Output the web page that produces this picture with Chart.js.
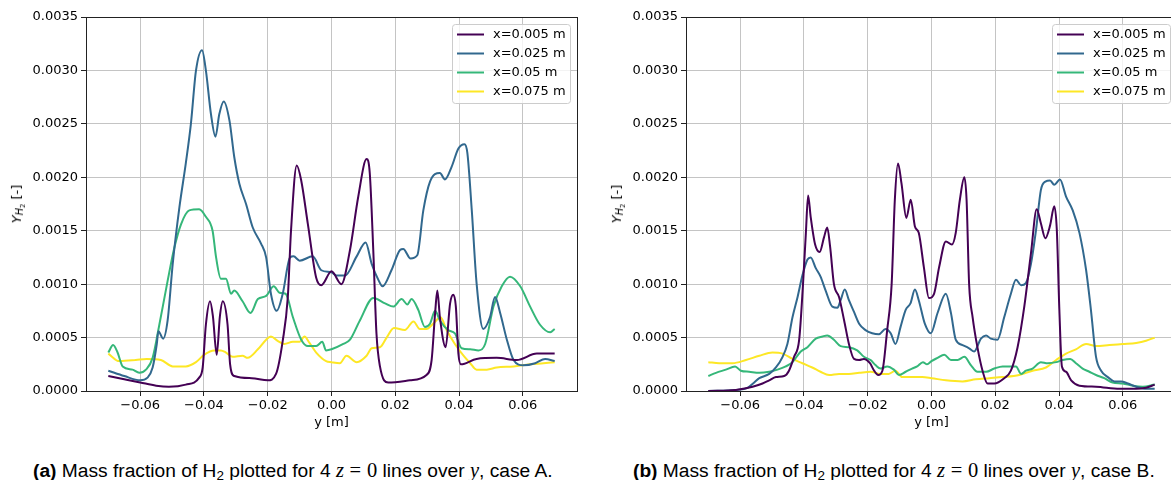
<!DOCTYPE html>
<html>
<head>
<meta charset="utf-8">
<script src="https://cdn.jsdelivr.net/npm/chart.js@4"></script>
<style>
  body { margin: 0; width: 1171px; height: 480px; overflow: hidden; position: relative; background: #fff; }
  .panel { position: absolute; top: 0; }
  .ylab { position: absolute; font: 13px "DejaVu Sans"; white-space: nowrap; transform: translate(-50%, -50%) rotate(-90deg); }
  .ylab sub { font-size: 75%; vertical-align: -0.25em; }
  .ylab sub sub { font-size: 70%; }
  .cap { position: absolute; top: 459px; font: 19.2px "Liberation Sans"; white-space: nowrap; line-height: 22px; }
  .cap sub { font-size: 70%; vertical-align: -0.2em; line-height: 0; }
  .m { font-family: "Liberation Serif"; font-size: 20.5px; }
  .eq { margin: 0 0.28em; }
</style>
</head>
<body>
<div class="panel" style="left:0"><canvas id="chartA" width="585" height="431"></canvas></div>
<div class="panel" style="left:600px"><canvas id="chartB" width="585" height="431"></canvas></div>
<div class="ylab" style="left:18px;top:204px"><i>Y</i><sub><i>H</i><sub>2</sub></sub> [-]</div>
<div class="ylab" style="left:618px;top:204px"><i>Y</i><sub><i>H</i><sub>2</sub></sub> [-]</div>
<div class="cap" style="left:33px"><b>(a)</b> Mass fraction of H<sub>2</sub> plotted for 4 <span class="m"><i>z</i><span class="eq">=</span>0</span> lines over <span class="m"><i>y</i></span>, case A.</div>
<div class="cap" style="left:633px"><b>(b)</b> Mass fraction of H<sub>2</sub> plotted for 4 <span class="m"><i>z</i><span class="eq">=</span>0</span> lines over <span class="m"><i>y</i></span>, case B.</div>
<script>
// ticks
const xTicks = [-0.06, -0.04, -0.02, 0, 0.02, 0.04, 0.06];
const yTicks = [0, 0.0005, 0.001, 0.0015, 0.002, 0.0025, 0.003, 0.0035];
const labels = ["x=0.005 m", "x=0.025 m", "x=0.05 m", "x=0.075 m"];
const colors = ["#440154", "#31688e", "#35b779", "#fde725"];

// case A
const A005pos = [-0.07, -0.065, -0.06, -0.055, -0.051, -0.0457, -0.0415, -0.0404, -0.0394, -0.0381, -0.0372, -0.036, -0.035, -0.0341, -0.0326, -0.0318, -0.0305, -0.025, -0.02, -0.0174, -0.0153, -0.0137, -0.0127, -0.0109, -0.0095, -0.0074, -0.0048, -0.0032, 0, 0.0031, 0.0058, 0.0084, 0.011, 0.012, 0.0131, 0.0141, 0.0152, 0.0178, 0.0246, 0.0298, 0.0314, 0.0325, 0.0332, 0.034, 0.0358, 0.0372, 0.0382, 0.039, 0.0398, 0.0406, 0.0455, 0.0518, 0.0581, 0.0644, 0.07];
const A005val = [0.00014, 0.00011, 0.00008, 0.00005, 0.00004, 0.00006, 0.000125, 0.00022, 0.00062, 0.00084, 0.0007, 0.00034, 0.0007, 0.00084, 0.00062, 0.00025, 0.00014, 0.00012, 0.0001, 0.00016, 0.00047, 0.00088, 0.0015, 0.00211, 0.00197, 0.00156, 0.00106, 0.00099, 0.00112, 0.001, 0.00132, 0.00182, 0.00217, 0.00204, 0.00132, 0.00054, 0.00023, 0.00008, 0.0001, 0.00015, 0.00029, 0.00073, 0.00094, 0.00069, 0.00041, 0.00082, 0.0009, 0.00079, 0.00035, 0.00025, 0.0003, 0.00031, 0.00029, 0.00035, 0.00035];

const A025pos = [-0.07, -0.065, -0.06, -0.0577, -0.0561, -0.0548, -0.0543, -0.0528, -0.0514, -0.0498, -0.0477, -0.0457, -0.0441, -0.0425, -0.0406, -0.0394, -0.0378, -0.0364, -0.0352, -0.0338, -0.032, -0.0305, -0.0289, -0.0268, -0.0247, -0.0221, -0.0205, -0.019, -0.0172, -0.0153, -0.013, -0.0119, -0.01, -0.0059, -0.0032, 0, 0.0016, 0.0042, 0.0079, 0.0107, 0.0126, 0.0147, 0.016, 0.0188, 0.0215, 0.0225, 0.0248, 0.0269, 0.0288, 0.0309, 0.034, 0.0356, 0.0377, 0.0398, 0.0417, 0.0426, 0.044, 0.0455, 0.0476, 0.0497, 0.0513, 0.0529, 0.055, 0.0571, 0.0602, 0.0639, 0.067, 0.07];
const A025val = [0.00019, 0.00014, 0.0001, 0.000125, 0.00022, 0.00044, 0.00056, 0.00049, 0.00066, 0.00119, 0.00172, 0.00213, 0.0025, 0.003, 0.00319, 0.003, 0.00259, 0.00238, 0.00259, 0.00271, 0.00253, 0.00219, 0.00194, 0.00175, 0.00153, 0.00138, 0.00125, 0.00091, 0.00075, 0.00091, 0.00125, 0.00126, 0.00122, 0.00126, 0.00113, 0.00111, 0.00108, 0.00108, 0.00126, 0.00139, 0.00119, 0.00104, 0.00098, 0.00113, 0.00132, 0.00133, 0.00124, 0.00127, 0.00169, 0.00196, 0.00204, 0.00198, 0.0021, 0.00227, 0.00231, 0.00223, 0.00169, 0.00101, 0.00058, 0.00069, 0.00088, 0.00073, 0.00048, 0.00029, 0.00024, 0.00026, 0.0003, 0.00028];

const A050pos = [-0.07, -0.0685, -0.0671, -0.0655, -0.0624, -0.0603, -0.0582, -0.0561, -0.054, -0.0514, -0.0493, -0.0472, -0.0446, -0.0415, -0.0394, -0.0373, -0.0362, -0.0347, -0.0331, -0.0315, -0.0305, -0.0279, -0.0254, -0.0231, -0.0205, -0.0181, -0.0163, -0.0144, -0.0121, -0.0095, -0.0074, -0.0048, -0.0029, -0.0017, 0, 0.0037, 0.0058, 0.0089, 0.0131, 0.0168, 0.0194, 0.022, 0.0238, 0.0251, 0.0272, 0.0293, 0.0309, 0.0325, 0.034, 0.0366, 0.0387, 0.0408, 0.0435, 0.0461, 0.0482, 0.0508, 0.0534, 0.056, 0.0592, 0.0623, 0.0654, 0.0686, 0.07];
const A050val = [0.00036, 0.00043, 0.00036, 0.00023, 0.0002, 0.00017, 0.0002, 0.00031, 0.00062, 0.00103, 0.00134, 0.00156, 0.00169, 0.0017, 0.00163, 0.0015, 0.00125, 0.00105, 0.00105, 0.00091, 0.00094, 0.00084, 0.00073, 0.00086, 0.00089, 0.00098, 0.00092, 0.00091, 0.00069, 0.00048, 0.00042, 0.00042, 0.00046, 0.00038, 0.00039, 0.00044, 0.00048, 0.00066, 0.00087, 0.00082, 0.00079, 0.00086, 0.00081, 0.00086, 0.00076, 0.0006, 0.00063, 0.00075, 0.00066, 0.00057, 0.00054, 0.0004, 0.00039, 0.00038, 0.00044, 0.00079, 0.00098, 0.00107, 0.00098, 0.00079, 0.00062, 0.00055, 0.00058];

const A075pos = [-0.07, -0.0666, -0.0614, -0.058, -0.0535, -0.0498, -0.0457, -0.0425, -0.0399, -0.0368, -0.0347, -0.0331, -0.031, -0.0279, -0.0263, -0.0231, -0.0205, -0.019, -0.0169, -0.0148, -0.0121, -0.01, -0.0085, -0.0069, -0.0048, -0.0017, 0, 0.0026, 0.0047, 0.0079, 0.011, 0.0126, 0.0152, 0.0173, 0.0196, 0.023, 0.0257, 0.0277, 0.0298, 0.0319, 0.0342, 0.0361, 0.0387, 0.0414, 0.0435, 0.0455, 0.0487, 0.0518, 0.0571, 0.0623, 0.0665, 0.07];
const A075val = [0.00035, 0.00028, 0.00029, 0.0003, 0.00029, 0.00023, 0.00023, 0.00027, 0.00034, 0.00038, 0.00038, 0.00036, 0.00032, 0.00033, 0.00031, 0.00039, 0.00048, 0.00051, 0.00047, 0.00044, 0.00046, 0.00046, 0.00051, 0.00045, 0.00036, 0.00028, 0.00027, 0.00026, 0.00033, 0.00027, 0.00033, 0.0004, 0.00041, 0.0005, 0.00059, 0.00057, 0.00065, 0.00058, 0.00058, 0.00063, 0.00069, 0.00057, 0.00044, 0.00033, 0.00026, 0.0002, 0.0002, 0.00022, 0.00023, 0.00025, 0.00026, 0.00027];

// case B
const B005pos = [-0.07, -0.0614, -0.0582, -0.0561, -0.053, -0.0509, -0.0488, -0.0462, -0.0447, -0.0431, -0.0415, -0.0403, -0.0394, -0.0387, -0.0379, -0.0365, -0.0351, -0.0337, -0.0327, -0.0318, -0.0306, -0.029, -0.0274, -0.0259, -0.0243, -0.0227, -0.0212, -0.0193, -0.018, -0.0167, -0.0154, -0.0139, -0.0125, -0.0115, -0.0105, -0.0094, -0.0079, -0.0065, -0.0052, -0.004, -0.0024, -0.0008, 0.0008, 0.0024, 0.0045, 0.0064, 0.0076, 0.0089, 0.0103, 0.011, 0.0118, 0.0129, 0.0144, 0.016, 0.0176, 0.0197, 0.0228, 0.0249, 0.027, 0.0291, 0.0312, 0.033, 0.0343, 0.0357, 0.0372, 0.0385, 0.0393, 0.0401, 0.0409, 0.0422, 0.0438, 0.0464, 0.0516, 0.059, 0.0642, 0.0673, 0.07];
const B005val = [0, 0.00001, 0.000025, 0.00004, 0.00007, 0.0001, 0.00013, 0.00014, 0.00019, 0.00032, 0.00048, 0.001, 0.00148, 0.00183, 0.00163, 0.00137, 0.0013, 0.00144, 0.00153, 0.00135, 0.001, 0.00088, 0.00066, 0.00044, 0.0003, 0.00029, 0.0003, 0.00026, 0.00019, 0.00015, 0.00019, 0.00057, 0.001, 0.00179, 0.00213, 0.00194, 0.00162, 0.00179, 0.00154, 0.00148, 0.00116, 0.00087, 0.00091, 0.00116, 0.0014, 0.00137, 0.00148, 0.00179, 0.002, 0.00179, 0.001, 0.00069, 0.00041, 0.00019, 0.00007, 0.00007, 0.00012, 0.00019, 0.00041, 0.00079, 0.00129, 0.0017, 0.00157, 0.00143, 0.00155, 0.00173, 0.00151, 0.00076, 0.00023, 0.00018, 0.0001, 0.00005, 0.00004, 0.00002, 0.00002, 0.00003, 0.00006];

const B025pos = [-0.07, -0.0614, -0.0577, -0.0556, -0.054, -0.0509, -0.0488, -0.0467, -0.0452, -0.0436, -0.042, -0.0405, -0.0389, -0.0379, -0.0363, -0.0348, -0.0332, -0.0311, -0.0295, -0.0285, -0.0272, -0.0259, -0.0243, -0.0227, -0.0207, -0.0186, -0.0165, -0.0144, -0.0128, -0.0113, -0.0097, -0.0081, -0.0066, -0.0052, -0.004, -0.0021, -0.0002, 0.0019, 0.0045, 0.0061, 0.0076, 0.0097, 0.0118, 0.0134, 0.0155, 0.0171, 0.0186, 0.0207, 0.0228, 0.0249, 0.0265, 0.0281, 0.0296, 0.0312, 0.0328, 0.0343, 0.0357, 0.0372, 0.0385, 0.0403, 0.0422, 0.0443, 0.0464, 0.0485, 0.05, 0.0516, 0.0532, 0.0553, 0.0574, 0.0595, 0.0616, 0.0642, 0.0673, 0.07];
const B025val = [0, 0.00001, 0.00003, 0.00008, 0.00012, 0.00016, 0.00022, 0.00032, 0.00044, 0.00069, 0.00088, 0.00108, 0.00123, 0.00125, 0.00115, 0.00107, 0.00094, 0.00079, 0.00078, 0.00085, 0.00095, 0.00085, 0.00074, 0.00063, 0.00057, 0.00054, 0.00053, 0.00058, 0.00054, 0.00044, 0.0006, 0.00076, 0.00082, 0.00095, 0.00085, 0.00063, 0.00054, 0.00073, 0.00091, 0.00073, 0.00048, 0.00043, 0.0004, 0.00037, 0.00049, 0.00052, 0.00049, 0.00048, 0.00069, 0.00091, 0.00104, 0.00099, 0.00101, 0.00119, 0.00151, 0.00188, 0.00196, 0.00197, 0.00193, 0.00198, 0.00182, 0.00169, 0.00148, 0.00113, 0.00076, 0.00032, 0.00019, 0.00013, 0.00009, 0.00009, 0.00007, 0.00004, 0.00002, 0.00002];

const B050pos = [-0.07, -0.0676, -0.0645, -0.0616, -0.0598, -0.0572, -0.054, -0.0509, -0.0483, -0.0457, -0.0436, -0.041, -0.0389, -0.0363, -0.0342, -0.0327, -0.0306, -0.0285, -0.0259, -0.0233, -0.0212, -0.0191, -0.0175, -0.016, -0.0139, -0.0118, -0.0102, -0.0081, -0.0061, -0.0045, -0.0027, -0.0014, 0, 0.0019, 0.004, 0.0061, 0.0082, 0.0103, 0.0124, 0.0144, 0.0171, 0.0197, 0.0223, 0.0244, 0.0265, 0.0281, 0.0296, 0.0317, 0.0343, 0.0364, 0.0391, 0.0411, 0.0435, 0.0453, 0.0474, 0.0495, 0.0516, 0.0542, 0.0568, 0.06, 0.0631, 0.0663, 0.07];
const B050val = [0.00014, 0.00017, 0.0002, 0.00023, 0.00019, 0.00018, 0.00017, 0.00018, 0.0002, 0.00023, 0.00027, 0.00037, 0.00041, 0.00049, 0.00051, 0.00052, 0.00048, 0.00042, 0.00041, 0.00038, 0.00032, 0.00029, 0.00024, 0.00021, 0.00023, 0.0002, 0.00015, 0.00018, 0.00021, 0.00023, 0.00027, 0.00025, 0.00028, 0.00031, 0.00034, 0.00029, 0.00029, 0.00032, 0.00024, 0.00018, 0.00018, 0.00021, 0.00023, 0.00023, 0.00023, 0.00016, 0.00019, 0.00021, 0.00027, 0.00026, 0.00027, 0.00029, 0.0003, 0.00026, 0.00021, 0.00018, 0.00015, 0.00012, 0.00008, 0.00007, 0.00005, 0.00004, 0.00006];

const B075pos = [-0.07, -0.0666, -0.0624, -0.0582, -0.054, -0.0499, -0.0467, -0.0436, -0.0405, -0.0374, -0.0348, -0.0321, -0.029, -0.0259, -0.0227, -0.0191, -0.016, -0.0134, -0.0113, -0.0092, -0.0061, -0.0029, 0, 0.0045, 0.0097, 0.0139, 0.0181, 0.0223, 0.0275, 0.0317, 0.0359, 0.0391, 0.0422, 0.0453, 0.0485, 0.0516, 0.0558, 0.06, 0.0642, 0.0673, 0.07];
const B075val = [0.00027, 0.00026, 0.00026, 0.00029, 0.00033, 0.00036, 0.00035, 0.0003, 0.00026, 0.00022, 0.00018, 0.00015, 0.00016, 0.00016, 0.00017, 0.00018, 0.00016, 0.00016, 0.00019, 0.00013, 0.00013, 0.00013, 0.00012, 0.0001, 0.00009, 0.00011, 0.00012, 0.00013, 0.00015, 0.00019, 0.00022, 0.00029, 0.00035, 0.00039, 0.00044, 0.00042, 0.00043, 0.00044, 0.00045, 0.00047, 0.0005];

const zip = (xs, ys) => xs.map((x, i) => ({ x: x, y: ys[i] }));

function makeDatasets(series) {
  return series.map((s, i) => ({
    label: labels[i],
    data: zip(s[0], s[1]),
    borderColor: colors[i],
    borderWidth: 2,
    pointRadius: 0,
    fill: false,
    cubicInterpolationMode: "monotone",
  }));
}

// framed legend in the upper right corner, like matplotlib's
const boxLegend = {
  id: "boxLegend",
  afterDatasetsDraw(chart) {
    const ctx = chart.ctx;
    const a = chart.chartArea;
    const w = 118, h = 79;
    const x = Math.round(a.right - 7 - w), y = Math.round(a.top + 7);
    ctx.save();
    ctx.fillStyle = "rgba(255,255,255,0.8)";
    ctx.strokeStyle = "#cccccc";
    ctx.lineWidth = 1;
    ctx.beginPath();
    ctx.roundRect(x + 0.5, y + 0.5, w, h, 3);
    ctx.fill();
    ctx.stroke();
    ctx.font = '13px "DejaVu Sans"';
    ctx.textBaseline = "middle";
    chart.data.datasets.forEach((ds, i) => {
      const cy = y + 10.5 + i * 19;
      ctx.strokeStyle = ds.borderColor;
      ctx.lineWidth = 2;
      ctx.beginPath();
      ctx.moveTo(x + 5, cy);
      ctx.lineTo(x + 32, cy);
      ctx.stroke();
      ctx.fillStyle = "#000";
      ctx.fillText(ds.label, x + 41, cy);
    });
    ctx.restore();
  },
};

// four spines around the plot area
const frame = {
  id: "frame",
  afterDraw(chart) {
    const a = chart.chartArea;
    const ctx = chart.ctx;
    ctx.save();
    ctx.strokeStyle = "#222";
    ctx.lineWidth = 1;
    ctx.strokeRect(Math.round(a.left) + 0.5, Math.round(a.top) + 0.5, Math.round(a.right - a.left), Math.round(a.bottom - a.top));
    ctx.restore();
  },
};

const fmtX = (v) => (v < 0 ? "\u2212" : "") + Math.abs(v).toFixed(2);

Chart.defaults.font.family = "DejaVu Sans";
Chart.defaults.font.size = 13;
Chart.defaults.color = "#000";

function makeChart(id, datasets) {
  return new Chart(document.getElementById(id), {
    type: "line",
    data: { datasets: datasets },
    plugins: [boxLegend, frame],
    options: {
      responsive: false,
      animation: false,
      devicePixelRatio: 1,
      layout: { padding: { left: 0, top: 17, right: 8, bottom: 0 } },
      scales: {
        x: {
          type: "linear",
          min: -0.077,
          max: 0.077,
          afterBuildTicks: (s) => { s.ticks = xTicks.map((v) => ({ value: v })); },
          afterFit: (s) => { s.height = 40; },
          ticks: { callback: fmtX, padding: 2, maxRotation: 0, autoSkip: false },
          grid: { color: "#c4c4c4", lineWidth: 1, tickColor: "#222", tickLength: 5 },
          border: { display: false },
          title: { display: true, text: "y [m]", padding: { top: 0, bottom: 1 } },
        },
        y: {
          type: "linear",
          min: 0,
          max: 0.0035,
          afterBuildTicks: (s) => { s.ticks = yTicks.map((v) => ({ value: v })); },
          afterFit: (s) => { s.width = 86; },
          ticks: { callback: (v) => v.toFixed(4), padding: 3 },
          grid: { color: "#c4c4c4", lineWidth: 1, tickColor: "#222", tickLength: 5 },
          border: { display: false },
        },
      },
      plugins: {
        legend: { display: false },
        tooltip: { enabled: false },
      },
    },
  });
}

makeChart("chartA", makeDatasets([[A005pos, A005val], [A025pos, A025val], [A050pos, A050val], [A075pos, A075val]]));
makeChart("chartB", makeDatasets([[B005pos, B005val], [B025pos, B025val], [B050pos, B050val], [B075pos, B075val]]));
</script>
</body>
</html>
